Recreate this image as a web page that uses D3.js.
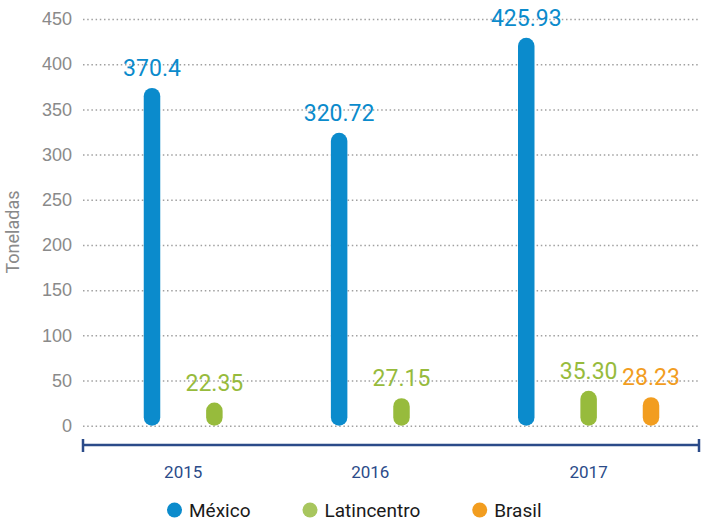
<!DOCTYPE html>
<html>
<head>
<meta charset="utf-8">
<script src="https://cdn.jsdelivr.net/npm/d3@7"></script>
<style>
  body { margin: 0; background: #fff; }
  svg { font-family: Roboto, "Noto Sans", sans-serif; }
</style>
</head>
<body>
<div id="chart"></div>
<script>
const width = 706;
const height = 522;

const years = ["2015", "2016", "2017"];
const series = ["México", "Latincentro", "Brasil"];
const mexico = [370.4, 320.72, 425.93];
const latincentro = [22.35, 27.15, 35.30];
const brasil = [null, null, 28.23];
const mexicoLabels = ["370.4", "320.72", "425.93"];
const latincentroLabels = ["22.35", "27.15", "35.30"];
const brasilLabels = [null, null, "28.23"];
const yTicks = [0, 50, 100, 150, 200, 250, 300, 350, 400, 450];

const colors = d3.scaleOrdinal()
    .domain(series)
    .range(["#0b8bcc", "#97bb3c", "#f29d1f"]);
const legendColors = d3.scaleOrdinal()
    .domain(series)
    .range(["#0b8bcc", "#a8c65e", "#f29d1f"]);

const values = [mexico, latincentro, brasil];
const labels = [mexicoLabels, latincentroLabels, brasilLabels];

// one slot per bar, plus an empty slot between years
let bars = [];
let yearSlots = [];
let slot = 0;
years.forEach(function (yr, i) {
    let first = slot;
    series.forEach(function (s, j) {
        if (values[j][i] !== null) {
            bars.push({year: yr, serie: s, value: values[j][i], label: labels[j][i], slot: slot});
            slot++;
        }
    });
    yearSlots.push({year: yr, slot: (first + slot - 1) / 2});
    slot++;
});

const svg = d3.select("#chart")
    .append("svg")
    .attr("width", width)
    .attr("height", height);

const yScale = d3.scaleLinear()
    .domain([0, 450])
    .range([425.7, 19]);

const xScale = d3.scaleLinear()
    .domain([0, d3.max(bars, d => d.slot)])
    .range([152, 651]);

// grid + y labels
const yAxis = d3.axisLeft(yScale)
    .tickValues(yTicks)
    .tickSize(0)
    .tickPadding(11);

let gy = svg.append("g")
    .attr("transform", "translate(83,0)")
    .call(yAxis);
gy.select(".domain").remove();
gy.selectAll("text")
    .attr("fill", "#8a8a8a")
    .style("font-size", "18px");
gy.selectAll(".tick line").remove();
gy.selectAll(".tick").append("line")
    .attr("x1", 0)
    .attr("x2", 617)
    .attr("stroke", "#a0a0a0")
    .attr("stroke-width", 1.5)
    .attr("stroke-dasharray", "1.5,2.7");

svg.append("text")
    .attr("transform", "translate(19,232) rotate(-90)")
    .attr("text-anchor", "middle")
    .attr("fill", "#8a8a8a")
    .style("font-size", "18px")
    .text("Toneladas");

// x axis line
const axisColor = "#2b4b89";
svg.append("line")
    .attr("x1", 83).attr("x2", 699)
    .attr("y1", 445).attr("y2", 445)
    .attr("stroke", axisColor)
    .attr("stroke-width", 2.5);
[83, 699].forEach(function (x) {
    svg.append("line")
        .attr("x1", x).attr("x2", x)
        .attr("y1", 439).attr("y2", 452)
        .attr("stroke", axisColor)
        .attr("stroke-width", 2.5);
});

svg.selectAll(".year")
    .data(yearSlots)
    .enter()
    .append("text")
    .attr("class", "year")
    .attr("x", d => xScale(d.slot))
    .attr("y", 478)
    .attr("text-anchor", "middle")
    .attr("fill", axisColor)
    .style("font-size", "17px")
    .text(d => d.year);

// bars
const barW = 16.5;
svg.selectAll(".bar")
    .data(bars)
    .enter()
    .append("rect")
    .attr("class", "bar")
    .attr("x", d => xScale(d.slot) - barW / 2)
    .attr("y", d => yScale(d.value) - 3)
    .attr("width", barW)
    .attr("height", d => yScale(0) - yScale(d.value) + 3)
    .attr("rx", barW / 2)
    .attr("fill", d => colors(d.serie));

svg.selectAll(".val")
    .data(bars)
    .enter()
    .append("text")
    .attr("class", "val")
    .attr("x", d => xScale(d.slot))
    .attr("y", d => yScale(d.value) - 15)
    .attr("text-anchor", "middle")
    .attr("fill", d => colors(d.serie))
    .style("font-size", "23px")
    .text(d => d.label);

// legend
let legend = svg.append("g").attr("transform", "translate(0,510)");
let lx = 167;
series.forEach(function (s) {
    legend.append("circle")
        .attr("cx", lx + 7.5)
        .attr("cy", 0)
        .attr("r", 7.5)
        .attr("fill", legendColors(s));
    let t = legend.append("text")
        .attr("x", lx + 22)
        .attr("y", 7)
        .attr("fill", "#1a1a1a")
        .style("font-size", "19px")
        .text(s);
    lx = lx + 22 + t.node().getComputedTextLength() + 52;
});
</script>
</body>
</html>
